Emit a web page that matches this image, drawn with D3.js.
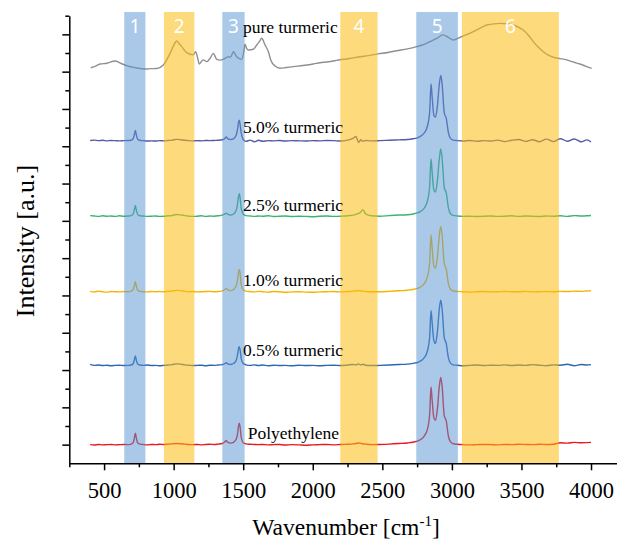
<!DOCTYPE html>
<html lang="en">
<head>
    <meta charset="utf-8">
    <title>Raman spectra - turmeric in polyethylene</title>
    <script src="https://d3js.org/d3.v7.min.js"></script>
    <style>
        body {
            margin: 0;
            background: #fff;
        }
        svg {
            display: block;
        }
        .axis path,
        .axis line {
            fill: none;
            stroke: #000;
            stroke-width: 1.5;
        }
        .axis text {
            font-family: 'Liberation Serif', 'Times New Roman', serif;
            font-size: 22.5px;
            fill: #000;
        }
        .spectrum {
            fill: none;
            stroke-width: 1.4;
            stroke-linejoin: round;
        }
        .series-label {
            font-family: 'Liberation Serif', 'Times New Roman', serif;
            font-size: 17.5px;
            fill: #000;
        }
        .band-label {
            font-family: 'Noto Sans', 'Open Sans', sans-serif;
            font-size: 19px;
            fill: #fff;
            text-anchor: middle;
        }
        .title {
            font-family: 'Liberation Serif', 'Times New Roman', serif;
            font-size: 23.5px;
            fill: #000;
            text-anchor: middle;
        }
    </style>
</head>

<body>
    <svg></svg>

    <script>
        // Wellenzahlen (cm-1), gemeinsam fuer PE und die Mischungen
        var wavenumbers = [
            400, 430, 460, 490, 520, 550, 580, 610, 640, 670,
            695, 710, 719, 725, 731, 741, 758, 780, 810, 840,
            870, 900, 930, 960, 990, 1020, 1050, 1080, 1110, 1140,
            1170, 1200, 1230, 1260, 1290, 1320, 1350, 1368, 1378, 1390,
            1410, 1430, 1450, 1460, 1466, 1472, 1478, 1486, 1500, 1520,
            1550, 1580, 1610, 1640, 1680, 1720, 1760, 1800, 1850, 1900,
            1950, 2000, 2050, 2100, 2150, 2200, 2250, 2290, 2310, 2330,
            2345, 2360, 2380, 2420, 2480, 2550, 2620, 2680, 2720, 2760,
            2800, 2825, 2840, 2850, 2858, 2870, 2882, 2895, 2910, 2920,
            2930, 2945, 2960, 2975, 2990, 3010, 3040, 3080, 3130, 3180,
            3230, 3280, 3330, 3380, 3430, 3480, 3530, 3580, 3630, 3680,
            3730, 3780, 3830, 3880, 3930, 3970, 4000
        ];

        // Intensitaeten relativ zur jeweiligen Grundlinie [a.u.]
        var polyethylene = [
            0.00, -0.02, 0.01, -0.01, 0.00, 0.01, -0.01, 0.00, 0.01, 0.00,
            0.03, 0.12, 0.40, 0.62, 0.38, 0.10, 0.03, 0.01, -0.01, 0.01,
            0.00, 0.02, 0.01, 0.03, 0.04, 0.06, 0.05, 0.03, 0.01, 0.00,
            0.01, -0.01, 0.01, 0.02, 0.01, 0.03, 0.06, 0.15, 0.22, 0.12,
            0.08, 0.12, 0.30, 0.62, 1.00, 1.15, 0.92, 0.38, 0.10, 0.04,
            0.02, 0.01, 0.00, 0.01, -0.01, 0.00, 0.01, -0.02, 0.00, -0.01,
            -0.03, -0.01, 0.00, 0.01, -0.01, 0.01, 0.02, 0.04, 0.06, 0.09,
            0.07, 0.05, 0.03, 0.00, 0.01, 0.03, 0.06, 0.09, 0.13, 0.22,
            0.45, 0.85, 1.60, 3.10, 2.40, 1.45, 1.30, 1.85, 3.15, 3.60,
            3.10, 1.55, 1.25, 0.45, 0.15, 0.05, 0.02, 0.00, -0.01, 0.00,
            0.01, 0.00, -0.01, 0.01, 0.00, 0.02, 0.01, 0.00, 0.02, 0.01,
            0.02, 0.10, 0.08, 0.12, 0.10, 0.11, 0.12
        ];
        var turmeric05 = [
            0.05, 0.00, 0.02, -0.01, 0.01, -0.02, 0.00, 0.01, -0.01, 0.00,
            0.02, 0.10, 0.35, 0.50, 0.30, 0.08, 0.02, 0.00, 0.02, -0.01,
            0.00, -0.02, 0.00, 0.02, 0.04, 0.08, 0.07, 0.03, 0.01, -0.01,
            0.00, 0.01, -0.02, 0.01, 0.00, 0.02, 0.04, 0.10, 0.14, 0.08,
            0.05, 0.10, 0.28, 0.60, 0.90, 1.00, 0.80, 0.35, 0.10, 0.03,
            0.00, 0.03, -0.01, 0.02, -0.02, 0.01, -0.01, 0.00, -0.02, 0.01,
            -0.01, 0.00, -0.02, 0.00, 0.01, -0.01, 0.02, 0.05, 0.03, 0.08,
            0.02, 0.06, 0.01, -0.01, 0.00, 0.02, 0.05, 0.07, 0.11, 0.18,
            0.40, 0.80, 1.50, 2.95, 2.30, 1.35, 1.18, 1.75, 3.05, 3.50,
            3.00, 1.50, 1.15, 0.40, 0.12, 0.03, 0.01, -0.02, 0.00, 0.02,
            -0.01, 0.01, 0.00, 0.03, -0.01, 0.02, 0.00, 0.04, 0.01, -0.02,
            0.03, 0.01, 0.06, -0.02, 0.05, 0.02, 0.04
        ];
        var turmeric10 = [
            0.02, -0.01, 0.03, 0.00, -0.02, 0.01, 0.00, -0.01, 0.01, 0.00,
            0.03, 0.12, 0.38, 0.54, 0.33, 0.09, 0.02, 0.00, -0.01, 0.01,
            0.00, 0.01, 0.00, 0.02, 0.03, 0.07, 0.06, 0.02, 0.00, 0.01,
            -0.01, 0.00, 0.01, 0.02, 0.00, 0.01, 0.05, 0.12, 0.18, 0.10,
            0.06, 0.12, 0.32, 0.68, 1.05, 1.20, 0.95, 0.40, 0.10, 0.03,
            0.01, -0.01, 0.02, 0.00, -0.02, 0.01, 0.00, -0.03, -0.01, 0.00,
            -0.02, -0.03, -0.01, 0.00, 0.01, -0.01, 0.01, 0.03, 0.05, 0.06,
            0.04, 0.03, 0.01, 0.00, 0.00, 0.02, 0.05, 0.08, 0.12, 0.20,
            0.42, 0.82, 1.55, 3.04, 2.35, 1.40, 1.26, 1.80, 3.05, 3.49,
            3.00, 1.50, 1.20, 0.42, 0.13, 0.04, 0.01, 0.00, -0.02, 0.00,
            0.01, -0.01, 0.00, 0.01, 0.00, 0.00, 0.02, -0.01, 0.00, 0.01,
            0.00, 0.02, 0.01, 0.03, 0.02, 0.04, 0.05
        ];
        var turmeric25 = [
            0.03, 0.01, -0.01, 0.02, 0.00, 0.01, -0.01, 0.02, 0.00, 0.01,
            0.03, 0.13, 0.40, 0.57, 0.35, 0.10, 0.02, 0.01, -0.01, 0.00,
            0.01, -0.01, 0.00, 0.02, 0.04, 0.09, 0.07, 0.03, 0.00, -0.01,
            0.00, 0.02, -0.01, 0.01, 0.00, 0.02, 0.06, 0.12, 0.16, 0.10,
            0.06, 0.12, 0.32, 0.70, 1.05, 1.20, 0.95, 0.40, 0.12, 0.03,
            0.01, -0.01, 0.01, 0.00, 0.02, -0.02, 0.00, 0.01, -0.02, 0.00,
            -0.01, -0.03, 0.00, 0.01, -0.01, 0.00, 0.02, 0.06, 0.10, 0.15,
            0.22, 0.35, 0.12, 0.02, 0.00, 0.03, 0.06, 0.08, 0.12, 0.20,
            0.42, 0.84, 1.58, 3.07, 2.38, 1.42, 1.29, 1.85, 3.10, 3.60,
            3.08, 1.55, 1.22, 0.44, 0.13, 0.04, 0.01, -0.01, 0.00, -0.02,
            0.00, 0.01, -0.01, 0.00, 0.02, -0.01, 0.01, 0.00, -0.02, 0.01,
            0.00, 0.02, -0.01, 0.03, 0.01, 0.02, 0.04
        ];
        var turmeric50 = [
            0.01, 0.03, 0.00, 0.02, -0.01, 0.01, 0.00, -0.01, 0.00, 0.01,
            0.02, 0.12, 0.38, 0.55, 0.33, 0.08, 0.02, 0.00, -0.02, -0.01,
            -0.02, 0.00, -0.01, 0.01, 0.03, 0.07, 0.05, 0.02, 0.00, -0.01,
            0.00, -0.01, 0.01, 0.00, 0.01, 0.02, 0.05, 0.12, 0.20, 0.10,
            0.06, 0.10, 0.30, 0.65, 0.98, 1.10, 0.85, 0.40, 0.06, -0.04,
            0.03, -0.06, 0.02, -0.03, 0.00, -0.01, 0.01, -0.02, 0.00, -0.01,
            -0.02, 0.00, -0.01, 0.01, 0.00, -0.02, 0.03, 0.12, 0.22, -0.10,
            0.05, -0.03, 0.01, -0.01, 0.00, 0.02, 0.04, 0.06, 0.10, 0.18,
            0.40, 0.80, 1.50, 3.04, 2.35, 1.38, 1.25, 1.80, 3.05, 3.50,
            3.00, 1.50, 1.18, 0.42, 0.12, 0.03, 0.00, -0.02, 0.01, -0.03,
            0.00, -0.02, 0.03, -0.05, 0.02, 0.06, -0.04, 0.05, -0.06, 0.08,
            -0.05, 0.10, -0.03, 0.09, -0.06, 0.04, -0.07
        ];

        // reines Kurkuma hat ein eigenes Raster
        var pureWavenumbers = [
            404, 440, 471, 520, 578, 620, 662, 730, 794, 840,
            878, 926, 974, 1000, 1022, 1040, 1058, 1094, 1141, 1158,
            1172, 1184, 1200, 1213, 1238, 1265, 1285, 1310, 1335, 1357,
            1393, 1410, 1429, 1453, 1489, 1505, 1513, 1525, 1537, 1573,
            1597, 1615, 1633, 1657, 1681, 1698, 1729, 1765, 1810, 1860,
            1930, 2004, 2052, 2100, 2148, 2196, 2244, 2290, 2340, 2400,
            2471, 2540, 2603, 2680, 2747, 2800, 2843, 2890, 2934, 2974,
            3010, 3058, 3105, 3154, 3200, 3250, 3300, 3346, 3395, 3441,
            3480, 3513, 3550, 3585, 3620, 3657, 3690, 3729, 3780, 3825,
            3870, 3921, 3960, 4005
        ];
        var pureTurmeric = [
            -0.04, 0.05, 0.16, 0.20, 0.32, 0.20, 0.07, -0.05, -0.11, -0.09,
            -0.08, 0.11, 0.73, 1.15, 1.39, 1.25, 1.09, 0.77, 0.65, 0.82,
            0.50, 0.16, 0.30, 0.38, 0.29, 0.50, 0.73, 0.41, 0.37, 0.41,
            0.55, 0.53, 0.82, 0.55, 0.41, 0.85, 1.22, 1.00, 0.91, 0.95,
            1.18, 1.35, 1.54, 1.18, 0.82, 0.38, 0.05, -0.07, -0.03, 0.02,
            0.08, 0.16, 0.23, 0.27, 0.32, 0.39, 0.43, 0.49, 0.55, 0.61,
            0.70, 0.78, 0.87, 0.97, 1.09, 1.21, 1.36, 1.53, 1.72, 1.59,
            1.45, 1.59, 1.73, 1.89, 2.07, 2.25, 2.31, 2.34, 2.32, 2.25,
            2.13, 1.98, 1.70, 1.36, 1.07, 0.82, 0.65, 0.52, 0.45, 0.38,
            0.27, 0.16, 0.05, -0.07
        ];

        var seriesNames = ["Polyethylene", "0.5% turmeric", "1.0% turmeric",
            "2.5% turmeric", "5.0% turmeric", "pure turmeric"];
        var seriesOffsets = [1.0, 5.25, 9.2, 13.25, 17.3, 21.25];

        // Bandbereiche (cm-1)
        var bandLabels = ["1", "2", "3", "4", "5", "6"];
        var bandStart = [645, 930, 1350, 2198, 2744, 3072];
        var bandEnd = [797, 1149, 1510, 2466, 3043, 3769];

        var xTicks = [500, 1000, 1500, 2000, 2500, 3000, 3500, 4000];
        var xMinorTicks = [250, 750, 1250, 1750, 2250, 2750, 3250, 3750];
        var yTicks = [1, 3, 5, 7, 9, 11, 13, 15, 17, 19, 21, 23];
        var yMinorTicks = [2, 4, 6, 8, 10, 12, 14, 16, 18, 20, 22, 24];

        var width = 617,
            height = 545;

        var svg = d3.select("svg")
            .attr("width", width)
            .attr("height", height);

        var x = d3.scaleLinear().domain([250, 4250]).range([69.3, 625.8]);
        var y = d3.scaleLinear().domain([0, 24]).range([463.3, 15.7]);

        var colors = ["#e8191c", "#2c68ae", "#f4b400", "#3cb46e", "#565aa3", "#8f8f8f"];
        var bandColor = ["#5593d3", "#fcbc11"];
        var bandOpacity = [0.5, 0.55];

        var spectra = [polyethylene, turmeric05, turmeric10, turmeric25, turmeric50];

        // Spektren zeichnen
        var line = d3.line()
            .x(function (d) { return x(d[0]); })
            .y(function (d) { return y(d[1]); })
            .curve(d3.curveMonotoneX);

        var lineData = spectra.map(function (s, i) {
            return s.map(function (v, j) {
                return [wavenumbers[j], v + seriesOffsets[i]];
            });
        });
        lineData.push(pureTurmeric.map(function (v, j) {
            return [pureWavenumbers[j], v + seriesOffsets[5]];
        }));

        svg.append("g")
            .selectAll("path")
            .data(lineData)
            .enter().append("path")
            .attr("class", "spectrum")
            .attr("stroke", function (d, i) { return colors[i]; })
            .attr("d", line);

        // Baender halbtransparent drueber
        var bands = bandLabels.map(function (l, i) {
            return { label: l, x0: bandStart[i], x1: bandEnd[i], kind: i % 2 };
        });

        svg.append("g")
            .selectAll("rect")
            .data(bands)
            .enter().append("rect")
            .attr("x", function (d) { return x(d.x0); })
            .attr("width", function (d) { return x(d.x1) - x(d.x0); })
            .attr("y", y(24.2))
            .attr("height", y(0) - y(24.2))
            .attr("fill", function (d) { return bandColor[d.kind]; })
            .attr("fill-opacity", function (d) { return bandOpacity[d.kind]; });

        svg.append("g")
            .selectAll("text")
            .data(bands)
            .enter().append("text")
            .attr("class", "band-label")
            .attr("x", function (d) { return x((d.x0 + d.x1) / 2); })
            .attr("y", 33.3)
            .text(function (d) { return d.label; });

        // Beschriftung der Spektren
        var labelX = [1532, 1498, 1498, 1498, 1498, 1498];
        var labelLift = [0.31, 0.5, 0.31, 0.29, 0.41, 1.81];
        svg.append("g")
            .selectAll("text")
            .data(seriesNames)
            .enter().append("text")
            .attr("class", "series-label")
            .attr("x", function (d, i) { return x(labelX[i]); })
            .attr("y", function (d, i) { return y(seriesOffsets[i] + labelLift[i]); })
            .text(function (d) { return d; });

        // X-Achse
        var xAxis = svg.append("g")
            .attr("class", "x axis")
            .attr("transform", "translate(0," + y(0) + ")")
            .call(d3.axisBottom(x).tickValues(xTicks).tickSize(7).tickSizeOuter(0)
                .tickFormat(d3.format("d")));
        xAxis.selectAll("text")
            .attr("y", 34.4)
            .attr("dy", 0);

        svg.append("g")
            .attr("class", "x axis minor")
            .attr("transform", "translate(0," + y(0) + ")")
            .call(d3.axisBottom(x).tickValues(xMinorTicks).tickSize(4).tickFormat(""))
            .select(".domain").remove();

        // Y-Achse ohne Zahlen
        svg.append("g")
            .attr("class", "y axis")
            .attr("transform", "translate(" + x(250) + ",0)")
            .call(d3.axisLeft(y).tickValues(yTicks).tickSize(7).tickSizeOuter(0).tickFormat(""));

        svg.append("g")
            .attr("class", "y axis minor")
            .attr("transform", "translate(" + x(250) + ",0)")
            .call(d3.axisLeft(y).tickValues(yMinorTicks).tickSize(4).tickFormat(""))
            .select(".domain").remove();

        // Achsentitel
        var xTitle = svg.append("text")
            .attr("class", "title")
            .attr("x", 346)
            .attr("y", 535);
        xTitle.append("tspan").text("Wavenumber [cm");
        xTitle.append("tspan").attr("dy", -9).style("font-size", "15px").text("-1");
        xTitle.append("tspan").attr("dy", 9).text("]");

        svg.append("text")
            .attr("class", "title")
            .attr("transform", "translate(34,241) rotate(-90)")
            .style("font-size", "26px")
            .text("Intensity [a.u.]");
    </script>

</body>
</html>
